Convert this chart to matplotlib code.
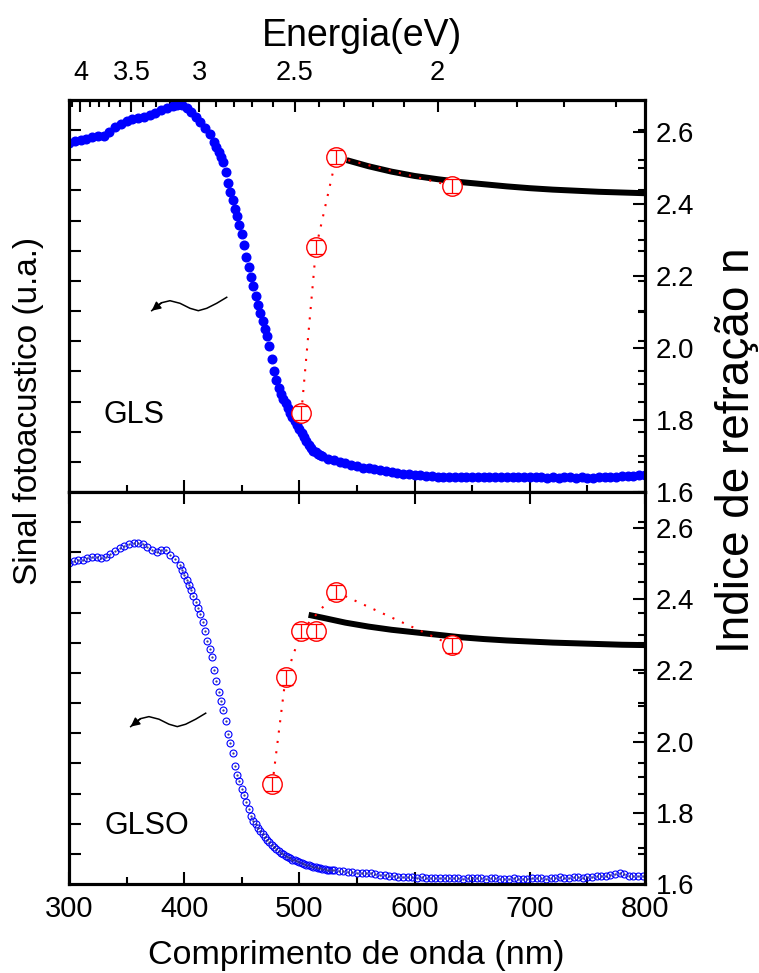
import numpy as np
import matplotlib
matplotlib.use("Agg")
import matplotlib.pyplot as plt
from matplotlib.ticker import MultipleLocator, FixedLocator, FormatStrFormatter, NullFormatter

plt.rcParams['font.family'] = ['Liberation Sans', 'DejaVu Sans']

# --- GLS: photoacoustic signal (arb. units) ---
gls_nm = np.r_[np.arange(300, 391, 5), np.arange(394, 427, 4),
               np.arange(428, 521, 2), np.arange(525, 801, 5)]
gls_pa = [11.57, 11.63, 11.68, 11.72, 11.76, 11.80, 11.80, 11.95, 12.10, 12.22,
          12.30, 12.36, 12.41, 12.45, 12.50, 12.56, 12.66, 12.74, 12.80,
          12.84, 12.82, 12.74, 12.60, 12.44, 12.26, 12.08, 11.88, 11.60,
          11.44, 11.28, 11.12, 10.95, 10.62, 10.25, 9.96, 9.68, 9.40, 9.15,
          8.85, 8.55, 8.20, 7.80, 7.45, 7.12, 6.82, 6.50, 6.20, 5.94,
          5.66, 5.42, 5.18, 4.84, 4.40, 4.00, 3.70, 3.46, 3.26, 3.10,
          2.94, 2.78, 2.63, 2.50, 2.36, 2.22, 2.08, 1.96, 1.82, 1.68,
          1.55, 1.45, 1.37, 1.31, 1.26, 1.22, 1.18,
          1.11, 1.05, 1.00, 0.95, 0.90, 0.85, 0.81, 0.78, 0.75, 0.72,
          0.69, 0.66, 0.63, 0.61, 0.59, 0.57, 0.55, 0.53, 0.52, 0.50,
          0.50, 0.49, 0.50, 0.49, 0.50, 0.51, 0.50, 0.49, 0.50, 0.51,
          0.50, 0.49, 0.50, 0.51, 0.50, 0.49, 0.50, 0.49, 0.48, 0.49,
          0.48, 0.49, 0.50, 0.48, 0.49, 0.47, 0.48, 0.50, 0.49, 0.51,
          0.50, 0.52, 0.54, 0.53, 0.55, 0.56]

# GLS: refractive index (prism coupling) and dispersion fit
gls_n_nm = [501.7, 514.5, 532.0, 632.8]
gls_n = [1.82, 2.28, 2.53, 2.45]
gls_n_err = [0.02, 0.02, 0.02, 0.02]
gls_fit_nm = [541, 560, 580, 600, 620, 640, 660, 680, 700, 720, 740, 760, 780, 800]
gls_fit_n = [2.522, 2.505, 2.490, 2.478, 2.469, 2.461, 2.455, 2.449, 2.444,
             2.440, 2.437, 2.434, 2.432, 2.430]

# --- GLSO: photoacoustic signal (arb. units) ---
glso_nm = np.r_[np.arange(300, 397, 4), np.arange(398, 531, 2), np.arange(534, 799, 4)]
glso_pa = [10.66, 10.70, 10.73, 10.76, 10.80, 10.85, 10.84, 10.80, 10.86, 10.95,
           11.05, 11.13, 11.20, 11.26, 11.30, 11.31, 11.26, 11.18, 11.08, 11.00,
           11.06, 11.06, 10.92, 10.78, 10.58,
           10.42, 10.24, 10.08, 9.92, 9.74, 9.54, 9.34, 9.15, 8.96, 8.70,
           8.40, 8.06, 7.80, 7.54, 7.10, 6.72, 6.36, 6.08, 5.76, 5.40,
           4.96, 4.66, 4.34, 3.92, 3.62, 3.40, 3.16, 2.94, 2.73, 2.48,
           2.26, 2.10, 1.98, 1.86, 1.75, 1.65, 1.55, 1.46, 1.38, 1.30,
           1.22, 1.15, 1.09, 1.03, 0.98, 0.93, 0.89, 0.85, 0.81, 0.78,
           0.75, 0.72, 0.70, 0.67, 0.64, 0.62, 0.60, 0.58, 0.56, 0.54,
           0.52, 0.51, 0.49, 0.48, 0.47, 0.46, 0.45,
           0.44, 0.42, 0.41, 0.39, 0.38, 0.37, 0.36, 0.35, 0.33, 0.31,
           0.29, 0.27, 0.25, 0.24, 0.23, 0.23, 0.22, 0.21, 0.22, 0.21,
           0.20, 0.21, 0.20, 0.19, 0.20, 0.20, 0.19, 0.18, 0.19, 0.20,
           0.21, 0.19, 0.18, 0.19, 0.20, 0.18, 0.17, 0.18, 0.19, 0.18,
           0.17, 0.18, 0.20, 0.21, 0.19, 0.18, 0.20, 0.21, 0.22, 0.20,
           0.21, 0.23, 0.22, 0.21, 0.23, 0.24, 0.25, 0.26, 0.27, 0.30,
           0.34, 0.37, 0.33, 0.28, 0.26, 0.27, 0.28]

glso_n_nm = [476.5, 488.0, 501.7, 514.5, 532.0, 632.8]
glso_n = [1.88, 2.18, 2.31, 2.31, 2.42, 2.27]
glso_n_err = [0.02, 0.02, 0.02, 0.02, 0.02, 0.02]
glso_link = [0, 1, 2, 4, 5]   # points joined by the dotted guide
glso_fit_nm = [508, 520, 540, 560, 580, 600, 620, 640, 660, 680, 700, 720, 740, 760, 780, 800]
glso_fit_n = [2.356, 2.348, 2.334, 2.323, 2.314, 2.307, 2.300, 2.293, 2.288,
              2.284, 2.281, 2.278, 2.276, 2.274, 2.272, 2.271]

# squiggly arrow pointing to the left-hand axis (axes fraction)
arrow_fx = [0.2738, 0.2564, 0.2391, 0.2245, 0.2101, 0.1927, 0.1753, 0.1609, 0.1523, 0.1436]
arrow_fy = [0.4967, 0.4814, 0.4686, 0.4625, 0.4686, 0.4814, 0.4880, 0.4829, 0.4745, 0.4625]

SPW = 2.2
TW = 1.5
BLUE = '#0000ff'
RED = '#ff0000'


def nm_ev(x):
    x = np.asarray(x, dtype=float)
    with np.errstate(divide='ignore'):
        return np.where(x != 0, 1239.84 / np.where(x != 0, x, 1.0), np.inf)


def style_spines(a):
    for s in a.spines.values():
        s.set_linewidth(SPW)


def squiggle(a, dx, dy):
    fx = np.array(arrow_fx) + dx
    fy = np.array(arrow_fy) + dy
    a.plot(fx, fy, transform=a.transAxes, color='k', lw=1.1, zorder=6)
    a.annotate('', xy=(fx[-1], fy[-1]), xytext=(fx[-3], fy[-3]),
               xycoords='axes fraction', textcoords='axes fraction',
               arrowprops=dict(arrowstyle='-|>', color='k', lw=1.1,
                               mutation_scale=13, shrinkA=0, shrinkB=0))


def panel(rect, nm, pa, hollow, n_nm, n, n_err, link, fit_nm, fit_n, nlim, name, name_pos, arrow_shift):
    a = fig.add_axes(rect)
    if hollow:
        a.plot(nm, pa, ls='none', marker='o', ms=5.0, mfc='none', mec=BLUE, mew=0.8, zorder=3)
        a.plot(nm, pa, ls='none', marker='.', ms=1.2, color='#303080', zorder=3)
    else:
        a.plot(nm, pa, ls='none', marker='o', ms=6.2, color=BLUE, mec=BLUE, zorder=3)
    a.set_xlim(300, 800)
    a.set_ylim(0, 13)
    a.yaxis.set_major_locator(FixedLocator(range(1, 13)))
    a.yaxis.set_major_formatter(NullFormatter())
    a.xaxis.set_major_locator(MultipleLocator(100))
    a.xaxis.set_minor_locator(MultipleLocator(50))
    a.tick_params(which='both', direction='in', width=TW)
    a.tick_params(which='major', length=8.5)
    a.tick_params(which='minor', length=5)
    a.tick_params(axis='y', left=True, right=False)
    style_spines(a)

    # short mirror ticks of the signal axis on the right spine
    m = a.twinx()
    m.set_ylim(0, 13)
    m.yaxis.set_major_locator(FixedLocator(range(1, 13)))
    m.yaxis.set_major_formatter(NullFormatter())
    m.tick_params(axis='y', direction='in', length=5, width=TW, labelright=False)
    style_spines(m)

    b = a.twinx()
    b.plot(fit_nm, fit_n, color='k', lw=4.3, solid_capstyle='butt', zorder=2.5)
    b.plot(np.array(n_nm)[link], np.array(n)[link], color=RED, lw=1.5,
           ls=(0, (1, 4)), zorder=3)
    b.plot(n_nm, n, ls='none', marker='o', ms=14, mfc='white', mec=RED, mew=1.0, zorder=4)
    b.errorbar(n_nm, n, yerr=n_err, fmt='none', ecolor=RED, elinewidth=0.9,
               capsize=5, capthick=0.9, zorder=5)
    b.set_ylim(*nlim)
    b.yaxis.set_major_locator(MultipleLocator(0.2))
    b.yaxis.set_minor_locator(MultipleLocator(0.1))
    b.yaxis.set_major_formatter(FormatStrFormatter('%.1f'))
    b.tick_params(which='both', direction='in', width=TW, labelsize=20, pad=8)
    b.tick_params(which='major', length=8.5)
    b.tick_params(which='minor', length=5)
    style_spines(b)

    b.text(name_pos[0], name_pos[1], name, transform=b.transAxes, fontsize=22,
           ha='center', va='center', zorder=7)
    squiggle(b, *arrow_shift)
    return a, b


fig = plt.figure(figsize=(7.59, 9.73), dpi=100)

ax_w = (645 - 69) / 759
ax_h = 392 / 973
left = 69 / 759

top, top_n = panel([left, (973 - 492) / 973, ax_w, ax_h], gls_nm, gls_pa, False,
                   gls_n_nm, gls_n, gls_n_err, [0, 1, 2, 3], gls_fit_nm, gls_fit_n,
                   (1.6, 2.689), 'GLS', (0.113, 0.196), (0.0, 0.0))
top.tick_params(axis='x', top=False, bottom=True, labelbottom=False)

bot, bot_n = panel([left, (973 - 884) / 973, ax_w, ax_h], glso_nm, glso_pa, True,
                   glso_n_nm, glso_n, glso_n_err, glso_link, glso_fit_nm, glso_fit_n,
                   (1.6, 2.701), 'GLSO', (0.135, 0.148), (-0.0365, -0.061))
bot.tick_params(axis='x', top=True, bottom=True, labelbottom=True, labelsize=21, pad=8)

# energy scale on top of the upper panel
sec = top.secondary_xaxis('top', functions=(nm_ev, nm_ev))
sec.set_xticks([4, 3.5, 3, 2.5, 2])
sec.set_xticklabels(['4', '3.5', '3', '2.5', '2'])
sec.xaxis.set_minor_locator(FixedLocator(np.round(np.arange(1.6, 4.15, 0.1), 2)))
sec.tick_params(which='both', direction='in', width=TW, labelsize=19.5, pad=10)
sec.tick_params(which='major', length=8.5)
sec.tick_params(which='minor', length=5)
sec.spines['top'].set_linewidth(SPW)

fig.text(0.4776, 0.963, 'Energia(eV)', fontsize=27, ha='center', va='center')
fig.text(0.470, 0.0175, 'Comprimento de onda (nm)', fontsize=24.5, ha='center', va='center')
fig.text(0.0369, 1 - 411 / 973, 'Sinal fotoacustico (u.a.)', fontsize=24,
         rotation=90, ha='center', va='center')
fig.text(0.971, 1 - 450 / 973, 'Indice de refração n', fontsize=33,
         rotation=90, ha='center', va='center')

fig.savefig('out.png', dpi=100)
